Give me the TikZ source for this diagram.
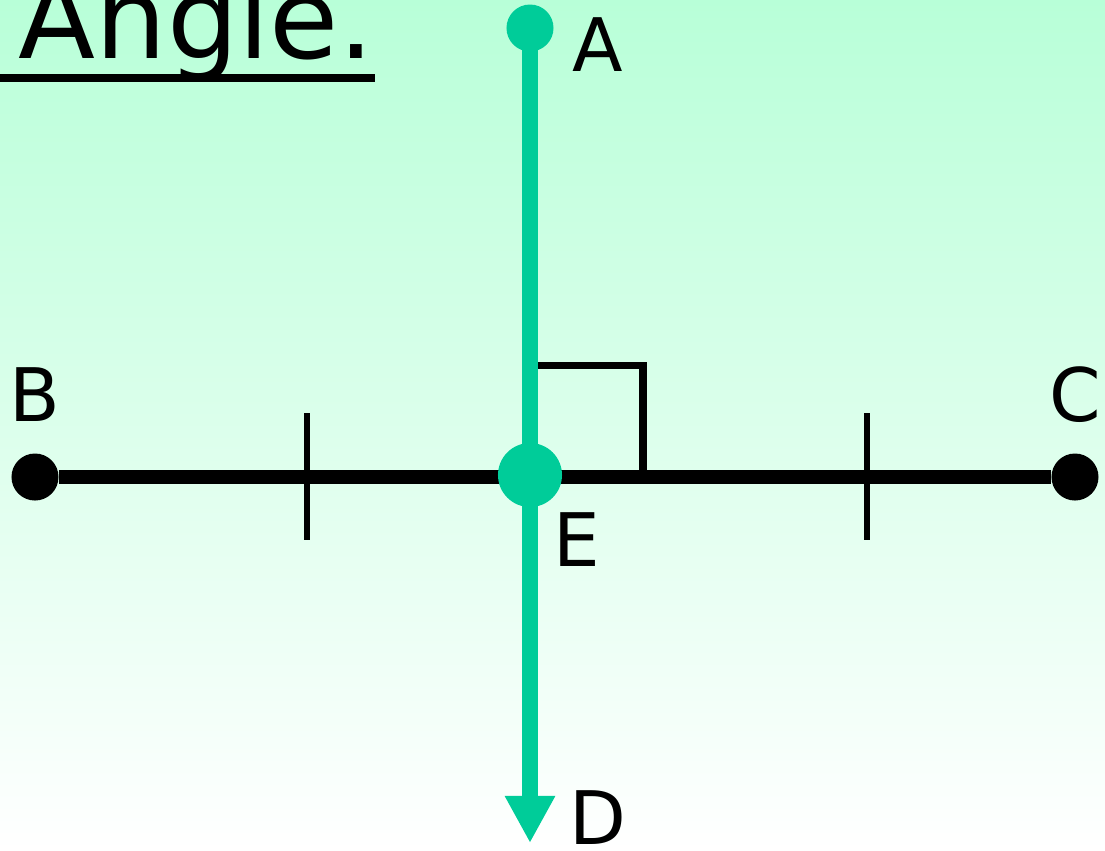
\documentclass[tikz,border=0pt]{standalone}
\usepackage{fontspec}
\setmainfont{DejaVu Sans}
\usetikzlibrary{arrows.meta, positioning}

\definecolor{mint}{RGB}{184,255,216}
\definecolor{seagreen}{RGB}{0,204,153}

\begin{document}
\begin{tikzpicture}
                [x=0.01cm, y=-0.01cm,
                dot/.style={circle, fill=black, inner sep=0pt, minimum size=0.47cm},
                gdot/.style={dot, fill=seagreen},
                lbl/.style={inner sep=0pt, font=\fontsize{21}{24}\selectfont},
                segline/.style={line width=4pt, black},
                rayline/.style={line width=4.5pt, seagreen},
                tick/.style={line width=1.7pt, black}]
                \shade[top color=mint, bottom color=white] (0,0) rectangle (1105,850);
                \useasboundingbox (0,0) rectangle (1105,850);
                % title
                \draw[line width=2.3pt] (0,78) -- (375,78);
                \node[anchor=base west, inner sep=0pt, font=\fontsize{32}{36}\selectfont] (title) at (18,58) {Angle.};
                % points
                \node[dot] (B) at (35,477) {};
                \node[dot] (C) at (1075,477) {};
                \node[gdot] (A) at (530,28) {};
                \coordinate (E) at (530,475);
                \coordinate (D) at (530,843);
                \coordinate (T1) at (307,413);
                \coordinate (T2) at (867,413);
                % segment BC with ticks
                \draw[segline] (B) -- (C);
                \draw[tick] (T1) -- ++(0,127);
                \draw[tick] (T2) -- ++(0,127);
                % right angle
                \draw[line width=2pt] (538,365) -- (643,365) -- (643,477);
                % ray AD
                \draw[rayline, -{Triangle[length=0.47cm, width=0.47cm]}] (A.center) -- (D);
                \node[gdot, minimum size=0.64cm] (Edot) at (E) {};
                % labels
                \node[lbl] (labA) at (598,45) {A};
                \node[lbl] (labB) at (35,395) {B};
                \node[lbl] (labC) at (1075,395) {C};
                \node[lbl] (labE) at (577,540) {E};
                \node[lbl] (labD) at (598,818) {D};
            \end{tikzpicture}
\end{document}
